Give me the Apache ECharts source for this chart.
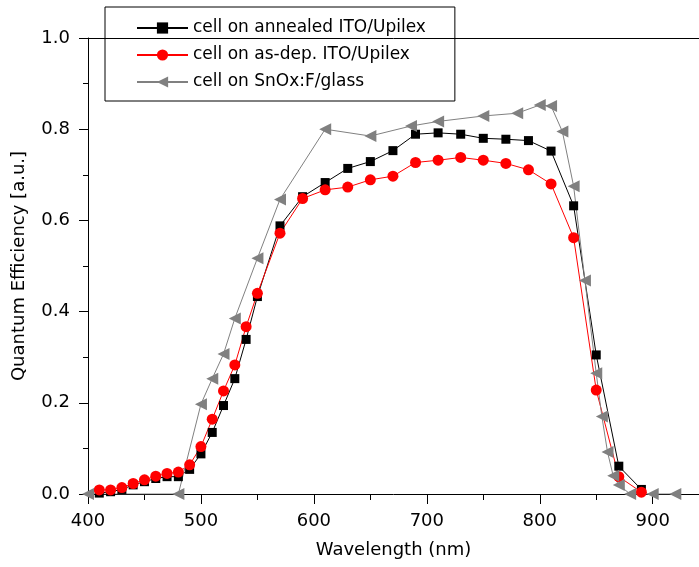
<!DOCTYPE html>
<html style="height: 100%">
<head>
    <meta charset="utf-8">
    <script type="text/javascript" src="https://cdn.jsdelivr.net/npm/echarts@6/dist/echarts.min.js"></script>
</head>
<body style="height: 100%; margin: 0; background: #fff">
    <div id="qeChart" style="height: 567px; width: 699px;"></div>

    <script type="text/javascript">
        // wavelengths (nm) and quantum efficiency
        var wlUpilex = [410, 420, 430, 440, 450, 460, 470, 480, 490, 500, 510, 520, 530, 540, 550,
            570, 590, 610, 630, 650, 670, 690, 710, 730, 750, 770, 790, 810, 830, 850, 870, 890];
        var qeAnnealed = [0.002, 0.005, 0.01, 0.02, 0.027, 0.034, 0.038, 0.038, 0.054, 0.088, 0.135, 0.194, 0.253, 0.339, 0.433,
            0.588, 0.652, 0.683, 0.714, 0.729, 0.753, 0.789, 0.792, 0.789, 0.78, 0.778, 0.775, 0.752, 0.632, 0.305, 0.061, 0.01];
        var qeAsDep = [0.009, 0.009, 0.014, 0.023, 0.031, 0.039, 0.045, 0.048, 0.064, 0.104, 0.164, 0.226, 0.283, 0.367, 0.44,
            0.572, 0.648, 0.667, 0.673, 0.689, 0.697, 0.727, 0.732, 0.738, 0.732, 0.725, 0.711, 0.68, 0.562, 0.228, 0.038, 0.004];
        var wlGlass = [400, 480, 500, 510, 520, 530, 550, 570, 610, 650, 686, 710, 750, 780, 800, 810, 820, 830,
            840, 850, 855, 860, 865, 870, 880, 900, 920];
        var qeGlass = [0, 0, 0.197, 0.253, 0.307, 0.385, 0.517, 0.646, 0.80, 0.785, 0.807, 0.817, 0.829, 0.835, 0.853, 0.851, 0.795, 0.675,
            0.468, 0.265, 0.17, 0.092, 0.04, 0.02, 0, 0, 0];
        var seriesNames = ['cell on annealed ITO/Upilex', 'cell on as-dep. ITO/Upilex', 'cell on SnOx:F/glass'];

        function pairs(xs, ys) {
            return xs.map(function (x, i) { return [x, ys[i]]; });
        }

        var chart = echarts.init(document.getElementById('qeChart'));
        var font = 'DejaVu Sans';

        var option = {
            animation: false,
            textStyle: { fontFamily: font },
            grid: { left: 88, top: 38, right: 0, bottom: 73 },
            legend: {
                orient: 'vertical',
                left: 105,
                top: 7,
                padding: [11, 29, 9, 31],
                itemWidth: 51,
                itemHeight: 14,
                itemGap: 7,
                borderColor: '#000',
                borderWidth: 1,
                textStyle: { fontFamily: font, fontSize: 17, lineHeight: 20, color: '#000' },
                data: seriesNames
            },
            xAxis: [{
                type: 'value',
                min: 400,
                max: 941,
                interval: 100,
                name: 'Wavelength (nm)',
                nameLocation: 'middle',
                nameGap: 47,
                nameTextStyle: { fontFamily: font, fontSize: 18, color: '#000' },
                axisLine: { lineStyle: { color: '#000', width: 1 } },
                axisTick: { inside: false, length: 10, lineStyle: { color: '#000' } },
                minorTick: { show: true, splitNumber: 2, length: 6, lineStyle: { color: '#000' } },
                axisLabel: {
                    margin: 18,
                    fontSize: 18,
                    color: '#000',
                    showMaxLabel: false,
                    formatter: function (v) { return v % 100 === 0 ? String(v) : ''; }
                },
                splitLine: { show: false }
            }, {
                type: 'value',
                position: 'top',
                min: 400,
                max: 941,
                axisLine: { onZero: false, lineStyle: { color: '#000', width: 1 } },
                axisTick: { show: false },
                axisLabel: { show: false },
                splitLine: { show: false }
            }],
            yAxis: {
                type: 'value',
                min: 0,
                max: 1,
                interval: 0.2,
                name: 'Quantum Efficiency [a.u.]',
                nameLocation: 'middle',
                nameGap: 60,
                nameTextStyle: { fontFamily: font, fontSize: 18, color: '#000' },
                axisLine: { show: true, lineStyle: { color: '#000', width: 1 } },
                axisTick: { show: true, inside: false, length: 9, lineStyle: { color: '#000' } },
                minorTick: { show: true, splitNumber: 2, length: 5, lineStyle: { color: '#000' } },
                axisLabel: {
                    margin: 18,
                    fontSize: 18,
                    color: '#000',
                    formatter: function (v) { return v.toFixed(1); }
                },
                splitLine: { show: false }
            },
            series: [{
                name: seriesNames[0],
                type: 'line',
                data: pairs(wlUpilex, qeAnnealed),
                symbol: 'rect',
                symbolSize: 9,
                showAllSymbol: true,
                color: '#000',
                lineStyle: { color: '#000', width: 1 },
                itemStyle: { color: '#000' }
            }, {
                name: seriesNames[1],
                type: 'line',
                data: pairs(wlUpilex, qeAsDep),
                symbol: 'circle',
                symbolSize: 11,
                showAllSymbol: true,
                color: '#ff0000',
                lineStyle: { color: '#ff0000', width: 1 },
                itemStyle: { color: '#ff0000' }
            }, {
                name: seriesNames[2],
                type: 'line',
                data: pairs(wlGlass, qeGlass),
                symbol: 'triangle',
                symbolSize: 12,
                symbolRotate: 90,
                showAllSymbol: true,
                color: '#808080',
                lineStyle: { color: '#808080', width: 1 },
                itemStyle: { color: '#808080' }
            }]
        };

        chart.setOption(option);
    </script>
</body>
</html>
